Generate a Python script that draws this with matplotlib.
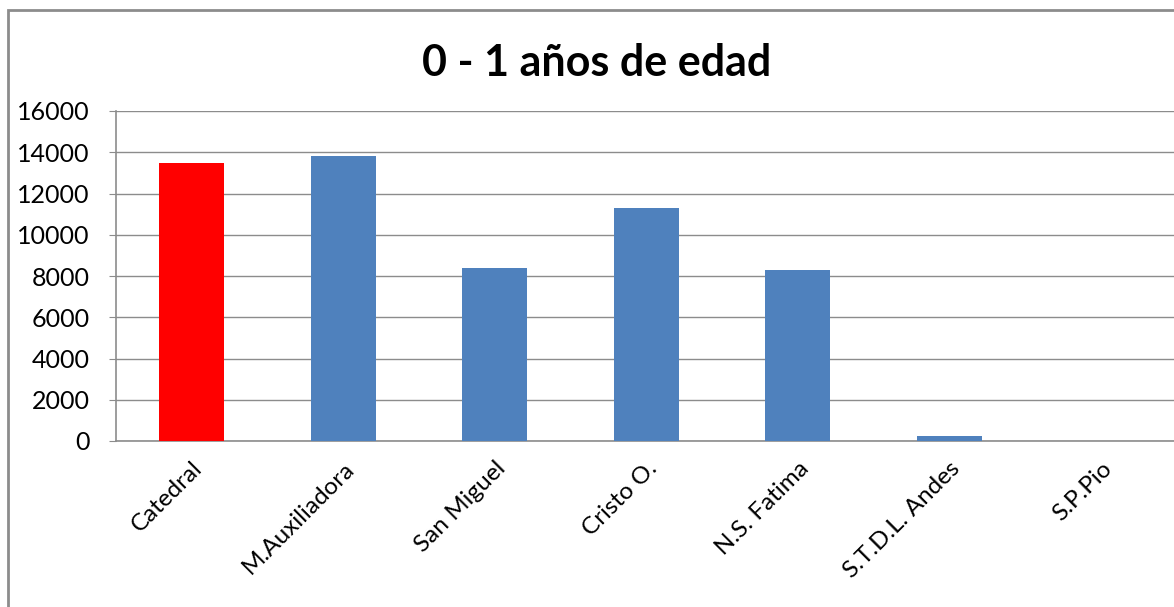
import matplotlib.pyplot as plt
from matplotlib.patches import Rectangle

# data
categories = ["Catedral", "M.Auxiliadora", "San Miguel", "Cristo O.",
              "N.S. Fatima", "S.T.D.L. Andes", "S.P.Pio"]
values = [13500, 13800, 8400, 11300, 8280, 250, 0]
bar_colors = ["#FF0000", "#4F81BD", "#4F81BD", "#4F81BD",
              "#4F81BD", "#4F81BD", "#4F81BD"]
y_ticks = [0, 2000, 4000, 6000, 8000, 10000, 12000, 14000, 16000]

plt.rcParams["font.family"] = ["Lato", "DejaVu Sans"]

fig = plt.figure(figsize=(11.74, 6.07), dpi=100)
fig.patch.set_facecolor("white")

# outer chart border (cut off at right and bottom)
fig.patches.append(Rectangle(
    (8 / 1174, -0.05), 1.2, 1 - 10 / 607 + 0.05,
    transform=fig.transFigure, fill=False,
    edgecolor="#8C8C8C", linewidth=2
))

ax = fig.add_axes([116 / 1174, 166 / 607, 1060.5 / 1174, 330 / 607])

x = range(len(categories))
ax.bar(x, values, width=0.43, color=bar_colors, zorder=3)

ax.set_xlim(-0.5, len(categories) - 0.5)
ax.set_ylim(0, 16000)
ax.set_yticks(y_ticks)
ax.set_yticklabels([str(v) for v in y_ticks], fontsize=18)

ax.set_xticks(list(x))
ax.set_xticklabels(categories, rotation=45, ha="right",
                   rotation_mode="anchor", fontsize=17.5)
ax.tick_params(axis="x", length=0, pad=12)
ax.tick_params(axis="y", length=5, color="#8C8C8C", pad=14)

ax.grid(axis="y", color="#8C8C8C", linewidth=1, zorder=0)
for side in ["left", "bottom"]:
    ax.spines[side].set_color("#8C8C8C")
    ax.spines[side].set_linewidth(1.2)
ax.spines["top"].set_visible(False)
ax.spines["right"].set_visible(False)

fig.text(597 / 1174, 1 - 63 / 607, "0 - 1 años de edad",
         ha="center", va="center", fontsize=31, fontweight="bold")

fig.savefig("out.png", dpi=100)
